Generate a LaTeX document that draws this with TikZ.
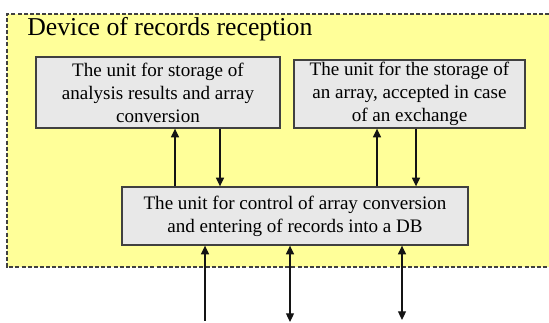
\documentclass[tikz,border=0pt]{standalone}
\usepackage{fontspec}
\setmainfont{Liberation Serif}
\usetikzlibrary{arrows.meta}

\tikzset{
  unit/.style={draw={rgb,255:red,64;green,64;blue,64}, fill={rgb,255:red,232;green,232;blue,232}, line width=1pt, align=center, inner sep=0pt, font=\fontsize{14.3}{17.3}\selectfont},
  link/.style={line width=0.9pt, color={rgb,255:red,20;green,20;blue,20}},
  tip/.style={-{Triangle[length=6.5pt,width=6pt]}},
  tips/.style={{Triangle[length=6.5pt,width=6pt]}-{Triangle[length=6.5pt,width=6pt]}}
}

\begin{document}
\begin{tikzpicture}[x=0.75pt,y=0.75pt,yscale=-1,xscale=1]
\useasboundingbox (0,0) rectangle (549,323);

%Shape: Rectangle [device]
\fill [color={rgb, 255:red, 255; green, 255; blue, 153 }] (7,14) rectangle (549,267) ;
\draw [color={rgb, 255:red, 64; green, 64; blue, 64 }, line width=0.8pt, dash pattern={on 3pt off 1.6pt}] (549,14) -- (7,14) -- (7,267) -- (549,267) ;

% Text Node
\node (title) at (27,36) [anchor=base west, inner sep=0pt, font=\fontsize{19.3}{22}\selectfont] {Device of records reception};

% Text Node
\node (store) at (158,92.5) [unit, minimum width=183pt, minimum height=53.25pt] {The unit for storage of\\analysis results and array\\conversion};
% Text Node
\node (xchg) at (409.5,94) [unit, minimum width=173.25pt, minimum height=51pt] {The unit for the storage of\\an array, accepted in case\\of an exchange};
% Text Node
\node (ctrl) at (295,216) [unit, minimum width=259.5pt, minimum height=43.5pt] {The unit for control of array conversion\\and entering of records into a DB};

% columns of the links
\coordinate (up1) at (175,0);
\coordinate (dn1) at (220,0);
\coordinate (up2) at (377,0);
\coordinate (dn2) at (416,0);
\coordinate (in1) at (205,321);
\coordinate (in2) at (290,322);
\coordinate (in3) at (402,320);

%Straight Lines
\draw [link, tip] (ctrl.north -| up1) -- (store.south -| up1) ;
\draw [link, tip] (store.south -| dn1) -- (ctrl.north -| dn1) ;
\draw [link, tip] (ctrl.north -| up2) -- (xchg.south -| up2) ;
\draw [link, tip] (xchg.south -| dn2) -- (ctrl.north -| dn2) ;
%Straight Lines
\draw [link, tip] (in1) -- (in1 |- ctrl.south) ;
\draw [link, tips] (in2) -- (in2 |- ctrl.south) ;
\draw [link, tips] (in3) -- (in3 |- ctrl.south) ;

\end{tikzpicture}
\end{document}
